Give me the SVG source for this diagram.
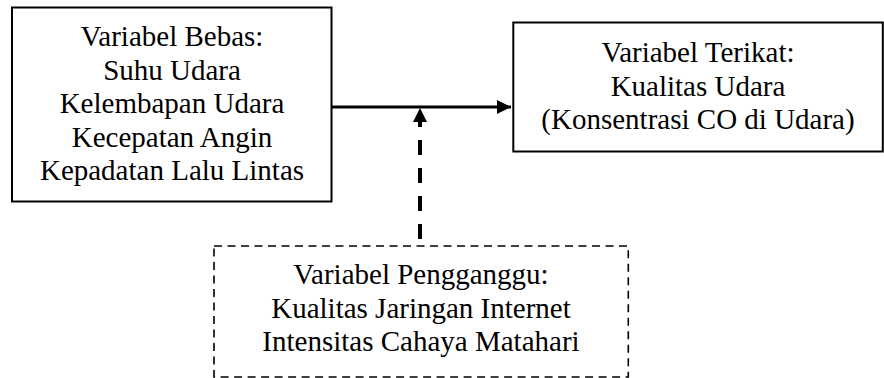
<svg xmlns="http://www.w3.org/2000/svg" width="884" height="378" viewBox="0 0 884 378">
<style>
.box{fill:#fff;stroke:#000;stroke-width:2}
.dbox{fill:#fff;stroke:#000;stroke-width:1.6;stroke-dasharray:8 5.5}
.t{font-size:29px;fill:#000;text-anchor:middle}
.line{stroke:#000;stroke-width:3.2;fill:none}
.dline{stroke:#000;stroke-width:4;fill:none;stroke-dasharray:15 13}
</style>
<defs>
<marker id="ah" markerUnits="userSpaceOnUse" markerWidth="16" markerHeight="16" viewBox="0 0 16 16" refX="14" refY="8" orient="auto">
<polygon points="0,1 14,8 0,15" fill="#000"/>
</marker>
</defs>
<g id="connectors">
<line class="line" x1="331" y1="107" x2="511" y2="107" marker-end="url(#ah)"/>
<line class="dline" x1="420" y1="239" x2="420" y2="108" marker-end="url(#ah)"/>
</g>
<g font-family="'Liberation Serif', 'Times New Roman', Times, serif">
<g id="bebas">
<rect class="box" x="12" y="7.5" width="319.5" height="194"/>
<text class="t" x="172" y="46">Variabel Bebas:</text>
<text class="t" x="172" y="79.5">Suhu Udara</text>
<text class="t" x="172" y="113">Kelembapan Udara</text>
<text class="t" x="172" y="146.5">Kecepatan Angin</text>
<text class="t" x="172" y="180">Kepadatan Lalu Lintas</text>
</g>
<g id="terikat">
<rect class="box" x="513.3" y="22.5" width="369.5" height="129"/>
<text class="t" x="698" y="62">Variabel Terikat:</text>
<text class="t" x="698" y="95.5">Kualitas Udara</text>
<text class="t" x="698" y="129">(Konsentrasi CO di Udara)</text>
</g>
<g id="pengganggu">
<rect class="dbox" x="214" y="246" width="414.3" height="131"/>
<text class="t" x="421" y="284">Variabel Pengganggu:</text>
<text class="t" x="421" y="317.5">Kualitas Jaringan Internet</text>
<text class="t" x="421" y="351">Intensitas Cahaya Matahari</text>
</g>
</g>
</svg>
